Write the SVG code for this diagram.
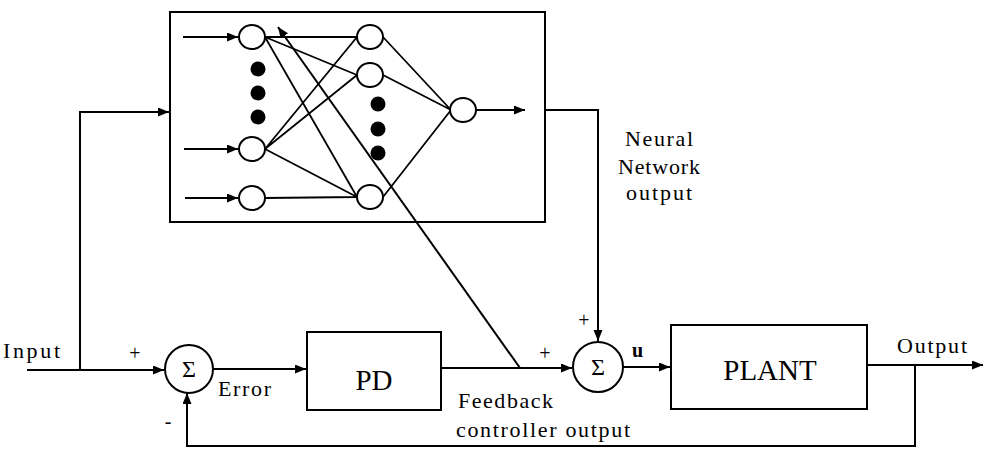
<svg xmlns="http://www.w3.org/2000/svg" width="984" height="449" viewBox="0 0 984 449">
<style>
.ln{stroke:#000;stroke-width:2;fill:none}
.nn{stroke:#000;stroke-width:1.8;fill:none}
.box{stroke:#000;stroke-width:2;fill:none}
.neu{stroke:#000;stroke-width:2;fill:#fff}
.dot{fill:#000}
.t{font-family:"Liberation Serif","Times New Roman",serif;fill:#000}
</style>
<defs>
<marker id="ah" markerUnits="userSpaceOnUse" markerWidth="12" markerHeight="10" refX="11" refY="4.5" orient="auto">
<path d="M0,0 L11,4.5 L0,9 z" fill="#000"/>
</marker>
</defs>
<rect width="984" height="449" fill="#fff"/>

<g id="nn">
<rect class="box" x="170" y="12" width="375" height="210"/>
<g id="nn-connections">
<path class="nn" d="M265,37 L357,37 M265,37 L357,75 M265,37 L357,197 M265,149 L357,37 M265,149 L357,75 M265,149 L357,197 M265,198 L357,197"/>
<path class="nn" d="M383,37 L451,110 M383,75 L451,110 M383,197 L451,110"/>
<path class="nn" d="M183,37 L238,37" marker-end="url(#ah)"/>
<path class="nn" d="M184,149 L238,149" marker-end="url(#ah)"/>
<path class="nn" d="M185,198 L238,198" marker-end="url(#ah)"/>
<path class="nn" d="M476,110 L525,110" marker-end="url(#ah)"/>
</g>
<g id="input-layer">
<ellipse class="neu" cx="252" cy="37" rx="13" ry="12"/>
<ellipse class="neu" cx="252" cy="149" rx="13" ry="12"/>
<ellipse class="neu" cx="252" cy="198" rx="13" ry="12"/>
<circle class="dot" cx="258" cy="69" r="7.5"/>
<circle class="dot" cx="258" cy="93" r="7.5"/>
<circle class="dot" cx="258" cy="117" r="7.5"/>
</g>
<g id="hidden-layer">
<ellipse class="neu" cx="370" cy="37" rx="13" ry="12"/>
<ellipse class="neu" cx="370" cy="75" rx="13" ry="12"/>
<ellipse class="neu" cx="370" cy="197" rx="13" ry="12"/>
<circle class="dot" cx="378" cy="104" r="7.5"/>
<circle class="dot" cx="378" cy="129" r="7.5"/>
<circle class="dot" cx="378" cy="153" r="7.5"/>
</g>
<g id="output-layer">
<ellipse class="neu" cx="463" cy="110" rx="13" ry="12"/>
</g>
</g>

<g id="sum1">
<circle class="neu" cx="189" cy="369" r="24"/>
<text class="t" x="189" y="377" font-size="24" text-anchor="middle">Σ</text>
</g>
<g id="sum2">
<circle class="neu" cx="598" cy="367" r="25"/>
<text class="t" x="598" y="375" font-size="24" text-anchor="middle">Σ</text>
</g>
<g id="pd">
<rect class="box" x="307" y="332" width="134" height="78"/>
<text class="t" x="374" y="390" font-size="29" text-anchor="middle">PD</text>
</g>
<g id="plant">
<rect class="box" x="671" y="325" width="196" height="84"/>
<text class="t" x="770" y="380" font-size="29" text-anchor="middle">PLANT</text>
</g>

<g id="connectors">
<path class="ln" d="M27,370 L164,370" marker-end="url(#ah)"/>
<path class="ln" d="M80,370 L80,112 L169,112" marker-end="url(#ah)"/>
<path class="ln" d="M213,369 L306,369" marker-end="url(#ah)"/>
<path class="ln" d="M441,368 L572,368" marker-end="url(#ah)"/>
<path class="ln" d="M623,367 L670,367" marker-end="url(#ah)"/>
<path class="ln" d="M867,365 L983,365" marker-end="url(#ah)"/>
<path class="ln" d="M915,365 L915,446 L187,446 L187,393" marker-end="url(#ah)"/>
<path class="ln" d="M545,110 L598,110 L598,341" marker-end="url(#ah)"/>
<path class="ln" d="M520,368 L278,27" marker-end="url(#ah)"/>
</g>

<g id="labels">
<text class="t" x="3" y="358" font-size="22" textLength="57">Input</text>
<text class="t" x="135" y="360" font-size="20" text-anchor="middle">+</text>
<text class="t" x="168" y="428" font-size="20" text-anchor="middle">-</text>
<text class="t" x="218" y="396" font-size="22" textLength="53">Error</text>
<text class="t" x="545" y="360" font-size="20" text-anchor="middle">+</text>
<text class="t" x="584" y="327" font-size="20" text-anchor="middle">+</text>
<text class="t" x="632" y="357" font-size="20" font-weight="bold">u</text>
<text class="t" x="458" y="408" font-size="22" textLength="95">Feedback</text>
<text class="t" x="456" y="437" font-size="22" textLength="174">controller output</text>
<text class="t" x="659" y="146" font-size="22" textLength="68" text-anchor="middle">Neural</text>
<text class="t" x="659" y="174" font-size="22" textLength="82" text-anchor="middle">Network</text>
<text class="t" x="659" y="200" font-size="22" textLength="66" text-anchor="middle">output</text>
<text class="t" x="897" y="353" font-size="22" textLength="70">Output</text>
</g>
</svg>
